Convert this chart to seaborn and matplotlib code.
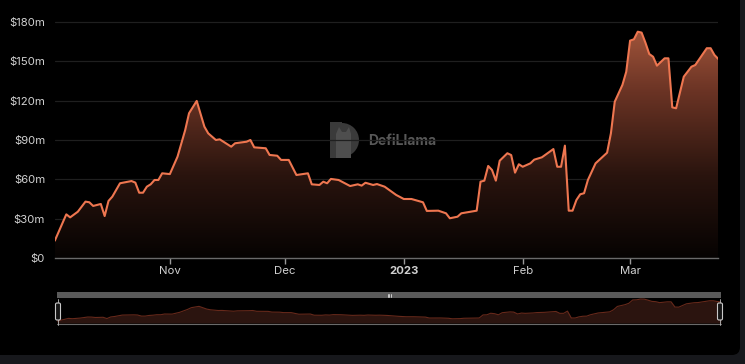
import numpy as np
import pandas as pd
import matplotlib
matplotlib.use("Agg")
import matplotlib.pyplot as plt
from matplotlib.colors import LinearSegmentedColormap
from matplotlib.patches import FancyBboxPatch, Rectangle, Wedge, Polygon
from matplotlib.lines import Line2D
import seaborn as sns

# values (day offset from start_date, TVL in $m)
start_date = "2022-10-02"
day_offsets = [0, 3, 4, 6, 8, 9, 10, 12, 13, 14, 15, 17, 20, 21, 22, 23, 24, 25, 26, 27,
               28, 30, 32, 34, 35, 37, 39, 40, 42, 43, 46, 47, 50, 51, 52, 55, 56, 58, 59, 61,
               63, 66, 67, 69, 70, 71, 72, 74, 77, 79, 80, 81, 83, 84, 86, 89, 91, 93, 96, 97,
               100, 102, 103, 105, 106, 110, 111, 112, 113, 114, 115, 116, 118, 119, 120, 121,
               122, 124, 125, 127, 130, 131, 132, 133, 134, 135, 136, 137, 138, 139, 141, 144,
               145, 146, 148, 149, 150, 151, 152, 153, 154, 155, 156, 157, 159, 160, 161, 162,
               164, 166, 167, 170, 171, 172, 173]
tvl_millions = [13.2, 33.3, 31.0, 35.3, 43.0, 42.5, 39.7, 41.2, 32.0, 43.5, 46.8, 57.0, 58.7, 57.5,
                49.8, 49.8, 54.4, 56.2, 59.5, 59.5, 64.6, 64.0, 77.3, 97.6, 110.4, 119.8, 100.2,
                95.1, 90.0, 90.5, 84.9, 87.5, 88.7, 90.0, 84.4, 83.7, 78.6, 78.0, 74.8, 74.8,
                63.3, 64.6, 56.2, 55.7, 58.2, 57.0, 60.3, 59.5, 54.9, 56.2, 55.2, 57.4, 55.7,
                56.4, 54.4, 48.1, 45.0, 45.0, 42.5, 35.9, 36.1, 34.1, 30.3, 31.5, 34.1, 36.1,
                58.2, 59.0, 70.2, 67.1, 59.0, 74.2, 79.9, 78.5, 65.1, 71.5, 69.6, 72.2, 75.0,
                76.8, 83.1, 69.6, 69.6, 85.7, 36.1, 36.1, 44.2, 48.6, 49.4, 59.5, 72.2, 80.3,
                95.1, 119.2, 132.0, 142.1, 165.8, 166.8, 172.6, 171.9, 164.2, 155.6, 153.5,
                146.7, 152.3, 152.3, 114.9, 114.2, 138.3, 145.9, 147.2, 160.0, 160.0, 154.8,
                151.8]
x_ticks = ["2022-11-01", "2022-12-01", "2023-01-01", "2023-02-01", "2023-03-01"]
x_tick_labels = ["Nov", "Dec", "2023", "Feb", "Mar"]
y_ticks = [0, 30, 60, 90, 120, 150, 180]
y_tick_labels = ["$0", "$30m", "$60m", "$90m", "$120m", "$150m", "$180m"]

df = pd.DataFrame({
    "date": pd.Timestamp(start_date) + pd.to_timedelta(day_offsets, unit="D"),
    "tvl": tvl_millions,
})

sns.set_theme(style="dark")
plt.rcParams["font.family"] = ["Inter", "DejaVu Sans"]
plt.rcParams["lines.solid_joinstyle"] = "round"

W, H = 745, 364
fig = plt.figure(figsize=(W / 100, H / 100), dpi=100, facecolor="#17181c")
t = fig.dpi_scale_trans

def px(x, y):
    # pixel position (from top-left) -> inches for dpi_scale_trans
    return x / 100, (H - y) / 100

# black card with rounded bottom-right corner
card = FancyBboxPatch((-0.2, (H - 355) / 100), (740 + 20) / 100, 3.8,
                      boxstyle="round,pad=0,rounding_size=0.08",
                      transform=t, facecolor="black", edgecolor="none", zorder=-5)
fig.patches.append(card)

# watermark (behind the chart)
wm = "#3a3a3a"
fig.patches.append(Rectangle(px(330, 158), 0.12, 0.36, transform=t, facecolor=wm,
                             edgecolor="none", zorder=-1))
fig.patches.append(Wedge(px(342, 140), 0.17, -90, 90, transform=t, facecolor=wm,
                         edgecolor="none", zorder=-1))
fig.patches.append(Polygon([px(336, 158), px(336, 134), px(339, 127), px(342, 132),
                            px(346, 132), px(349, 127), px(351, 134), px(351, 158)],
                           transform=t, facecolor="#4e4e4e", edgecolor="none", zorder=-1))
fig.text(*px(368, 141), "DefiLlama", transform=t, color="#585858", fontsize=10,
         fontweight="bold", va="center", ha="left", zorder=-1)

# main chart
y_top = 186
x0, y0, x1 = 54.8, 258, 718.3
ax_top = y0 - y_top * (236 / 180)
ax = fig.add_axes([x0 / W, (H - y0) / H, (x1 - x0) / W, (y0 - ax_top) / H])
ax.set_facecolor("none")

sns.lineplot(data=df, x="date", y="tvl", ax=ax, color="#ee7650", linewidth=1.5, zorder=3)

poly = ax.fill_between(df["date"], df["tvl"], 0, color="none", linewidth=0)
ax.set_xlim(df["date"].iloc[0], df["date"].iloc[-1])
xnum = ax.get_xlim()

fill_cmap = LinearSegmentedColormap.from_list(
    "fill", [(0, "#060302"), (0.35, "#2a140e"), (0.7, "#6a3324"), (1.0, "#a8593e")])
grad = np.linspace(0, 1, 256).reshape(-1, 1)
im = ax.imshow(grad, cmap=fill_cmap, aspect="auto", origin="lower",
               extent=[xnum[0], xnum[1], 0, 180], zorder=2)
im.set_clip_path(poly.get_paths()[0], transform=ax.transData)
ax.set_xlim(xnum)
ax.set_ylim(0, y_top)

ax.set_yticks(y_ticks)
ax.set_yticklabels(y_tick_labels)
ax.set_xticks(pd.to_datetime(x_ticks))
ax.set_xticklabels(x_tick_labels)
for lbl in ax.get_xticklabels():
    if lbl.get_text() == "2023":
        lbl.set_fontweight("bold")
ax.tick_params(axis="y", length=0, pad=7, labelsize=8.2, labelcolor="#d0d0d0")
ax.tick_params(axis="x", length=4, width=1, color="#9a9a9a", direction="out", pad=2,
               labelsize=8.2, labelcolor="#d0d0d0", bottom=True)
ax.grid(axis="y", color="#1f1f1f", linewidth=0.9)
ax.grid(axis="x", visible=False)
for side in ["top", "right", "left"]:
    ax.spines[side].set_visible(False)
ax.spines["bottom"].set_color("#6a6a6a")
ax.spines["bottom"].set_linewidth(1)
ax.set_xlabel("")
ax.set_ylabel("")

# navigator
nav_left, nav_right = 57, 721
nav = fig.add_axes([nav_left / W, (H - 323) / H, (nav_right - nav_left) / W, (323 - 298) / H])
nav.set_facecolor("none")
nav.fill_between(df["date"], df["tvl"], 0, color="#2b140f", linewidth=0)
sns.lineplot(data=df, x="date", y="tvl", ax=nav, color="#66291b", linewidth=0.8)
nav.set_xlim(xnum)
nav.set_ylim(0, 180)
nav.set_axis_off()

fig.patches.append(Rectangle(px(nav_left, 297.5), (nav_right - nav_left) / 100, 0.055,
                             transform=t, facecolor="#5a5a5a", edgecolor="none", zorder=2))
fig.lines.append(Line2D([nav_left / 100, nav_right / 100], [(H - 324) / 100] * 2,
                        transform=t, color="#6a6a6a", linewidth=0.8))
cx = (nav_left + nav_right) / 2
for dx in (-1.5, 0, 1.5):
    fig.lines.append(Line2D([(cx + dx) / 100] * 2, [(H - 296.5) / 100, (H - 293.5) / 100],
                            transform=t, color="#dddddd", linewidth=0.6, zorder=3))
for hx in (nav_left + 1, nav_right - 1):
    fig.lines.append(Line2D([hx / 100] * 2, [(H - 325) / 100, (H - 299) / 100], transform=t,
                            color="#bbbbbb", linewidth=0.6, zorder=3))
    fig.patches.append(FancyBboxPatch(px(hx - 2.5, 320), 0.05, 0.17,
                                      boxstyle="round,pad=0,rounding_size=0.015", transform=t,
                                      facecolor="#151515", edgecolor="#c8c8c8", linewidth=0.8,
                                      zorder=4))

fig.savefig("out.png", dpi=100, facecolor=fig.get_facecolor())
